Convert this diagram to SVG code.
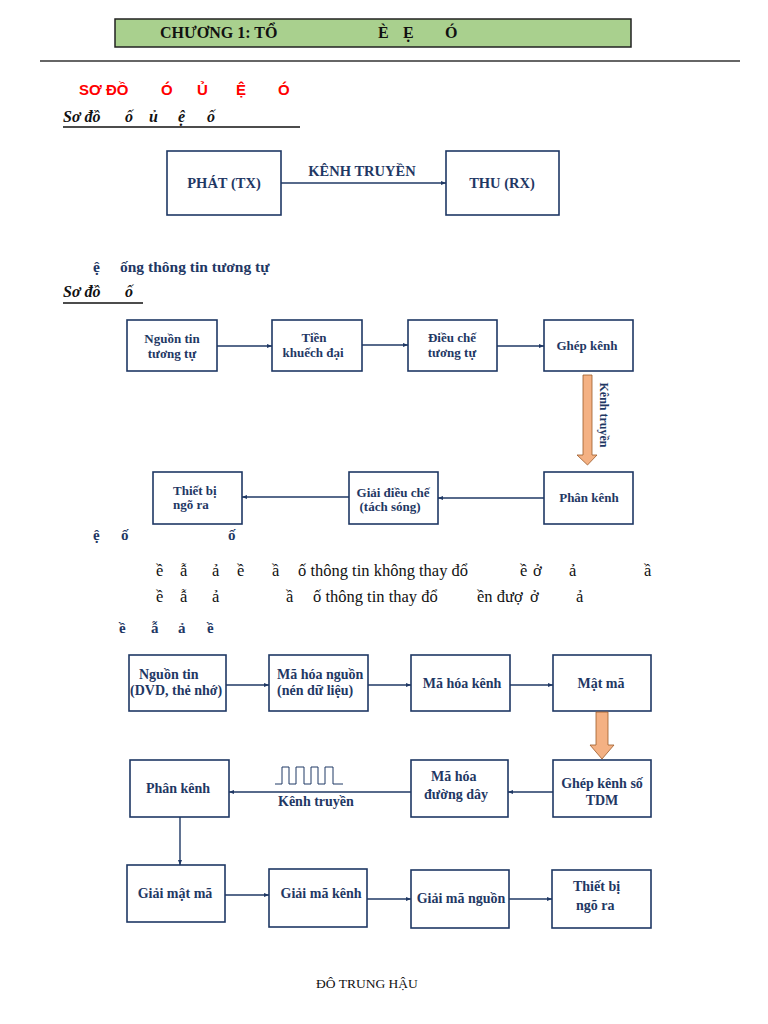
<svg xmlns="http://www.w3.org/2000/svg" width="768" height="1024" viewBox="0 0 768 1024">
<style>
.bx{fill:#fff;stroke:#1f3864;stroke-width:1.6}
.t{font-family:"Liberation Serif","Times New Roman",serif;font-weight:bold;fill:#1f3864}
.c{text-anchor:middle}
.ln{stroke:#1f3864;stroke-width:1.4;fill:none}
.blk{font-family:"Liberation Serif","Times New Roman",serif;fill:#111}
.ora{fill:#f4b183;stroke:#9c5a2a;stroke-width:0.8}
</style>
<defs>
<marker id="ah" viewBox="0 0 10 10" refX="10" refY="5" markerWidth="5" markerHeight="5" orient="auto" markerUnits="userSpaceOnUse">
<path d="M0,1 L10,5 L0,9 z" fill="#1f3864"/>
</marker>
</defs>
<rect width="768" height="1024" fill="#fff"/>

<!-- header -->
<g id="header">
<rect x="115" y="19" width="516" height="28" fill="#a9d08e" stroke="#222" stroke-width="1.5"/>
<text class="blk" font-weight="bold" font-size="16" y="38"><tspan x="160">CHƯƠNG 1: TỔ</tspan><tspan x="378">È</tspan><tspan x="403">Ẹ</tspan><tspan x="445">Ó</tspan></text>
<line x1="40" y1="61" x2="740" y2="61" stroke="#333" stroke-width="1.6"/>
</g>

<g id="heading1">
<text font-family="Liberation Sans,Arial,sans-serif" font-weight="bold" font-size="15" fill="#ff0000" y="95"><tspan x="79">SƠ ĐỒ</tspan><tspan x="161">Ó</tspan><tspan x="197">Ủ</tspan><tspan x="236">Ệ</tspan><tspan x="278">Ó</tspan></text>
<text class="blk" font-weight="bold" font-style="italic" font-size="16" y="122"><tspan x="63">Sơ đồ</tspan><tspan x="125">ố</tspan><tspan x="149">ủ</tspan><tspan x="178">ệ</tspan><tspan x="207">ố</tspan></text>
<line x1="63" y1="127" x2="300" y2="127" stroke="#111" stroke-width="1.3"/>
</g>

<!-- diagram 1 -->
<g id="phat"><rect class="bx" x="167" y="151" width="114" height="64"/><text class="t c" font-size="14.5" x="224" y="188">PHÁT (TX)</text></g>
<g id="thu"><rect class="bx" x="446" y="151" width="113" height="64"/><text class="t c" font-size="14.5" x="502" y="188">THU (RX)</text></g>
<g id="conn1">
<line class="ln" x1="281" y1="183" x2="446" y2="183" marker-end="url(#ah)"/>
<text class="t c" font-size="14.5" x="362" y="176">KÊNH TRUYỀN</text>
</g>

<g id="heading2">
<text class="t" font-size="15.5" y="272"><tspan x="93">ệ</tspan><tspan x="120">ống thông tin tương tự</tspan></text>
<text class="blk" font-weight="bold" font-style="italic" font-size="16" y="297"><tspan x="63">Sơ đồ</tspan><tspan x="125">ố</tspan></text>
<line x1="63" y1="303" x2="143" y2="303" stroke="#111" stroke-width="1.3"/>
</g>

<!-- diagram 2 -->
<g id="n2a"><rect class="bx" x="127" y="320" width="90" height="51"/><text class="t c" font-size="13" x="172"><tspan x="172" y="343">Nguồn tin</tspan><tspan x="172" y="358">tương tự</tspan></text></g>
<g id="n2b"><rect class="bx" x="272" y="320" width="90" height="51"/><text class="t c" font-size="13"><tspan x="314" y="342">Tiền</tspan><tspan x="313" y="357">khuếch đại</tspan></text></g>
<g id="n2c"><rect class="bx" x="408" y="320" width="89" height="51"/><text class="t c" font-size="13"><tspan x="452" y="342">Điều chế</tspan><tspan x="452" y="357">tương tự</tspan></text></g>
<g id="n2d"><rect class="bx" x="544" y="320" width="89" height="51"/><text class="t c" font-size="13" x="587" y="350">Ghép kênh</text></g>
<g id="n2e"><rect class="bx" x="544" y="472" width="89" height="52"/><text class="t c" font-size="13" x="589" y="502">Phân kênh</text></g>
<g id="n2f"><rect class="bx" x="349" y="472" width="89" height="52"/><text class="t c" font-size="13"><tspan x="393" y="497">Giải điều chế</tspan><tspan x="390" y="511">(tách sóng)</tspan></text></g>
<g id="n2g"><rect class="bx" x="153" y="472" width="89" height="52"/><text class="t" font-size="13"><tspan x="173" y="495">Thiết bị</tspan><tspan x="173" y="509">ngõ ra</tspan></text></g>
<g id="conn2">
<line class="ln" x1="217" y1="346" x2="272" y2="346" marker-end="url(#ah)"/>
<line class="ln" x1="362" y1="345" x2="408" y2="345" marker-end="url(#ah)"/>
<line class="ln" x1="497" y1="346" x2="544" y2="346" marker-end="url(#ah)"/>
<path class="ora" d="M583,375 H592 V455 H597 L587.5,465 L577,455 H583 Z"/>
<text class="t c" font-size="12" transform="translate(600,415) rotate(90)">Kênh truyền</text>
<line class="ln" x1="544" y1="498" x2="438" y2="498" marker-end="url(#ah)"/>
<line class="ln" x1="349" y1="497" x2="242" y2="497" marker-end="url(#ah)"/>
</g>

<!-- section 3 text -->
<g id="text3">
<text class="t" font-size="15" y="540"><tspan x="93">ệ</tspan><tspan x="121">ố</tspan><tspan x="228">ố</tspan></text>
<text class="blk" font-size="16.5" y="576"><tspan x="156">ề</tspan><tspan x="180">ẫ</tspan><tspan x="212">ả</tspan><tspan x="237">ề</tspan><tspan x="272">ầ</tspan><tspan x="298">ố thông tin không thay đổ</tspan><tspan x="520">ề</tspan><tspan x="533">ở</tspan><tspan x="569">ả</tspan><tspan x="644">ầ</tspan></text>
<text class="blk" font-size="16.5" y="602"><tspan x="156">ề</tspan><tspan x="180">ẫ</tspan><tspan x="212">ả</tspan><tspan x="286">ầ</tspan><tspan x="313">ố thông tin thay đổ</tspan><tspan x="477">ền đượ</tspan><tspan x="530">ở</tspan><tspan x="576">ả</tspan></text>
<text class="t" font-size="15" y="633"><tspan x="119">ề</tspan><tspan x="151">ẫ</tspan><tspan x="178">ả</tspan><tspan x="207">ề</tspan></text>
</g>

<!-- diagram 3 -->
<g id="n3a"><rect class="bx" x="129" y="655" width="97" height="56"/><text class="t" font-size="14"><tspan x="139" y="679">Nguồn tin</tspan><tspan x="130" y="695">(DVD, thẻ nhớ)</tspan></text></g>
<g id="n3b"><rect class="bx" x="269" y="655" width="99" height="56"/><text class="t" font-size="14"><tspan x="277" y="679">Mã hóa nguồn</tspan><tspan x="277" y="695">(nén dữ liệu)</tspan></text></g>
<g id="n3c"><rect class="bx" x="411" y="655" width="99" height="56"/><text class="t c" font-size="14" x="462" y="688">Mã hóa kênh</text></g>
<g id="n3d"><rect class="bx" x="553" y="655" width="98" height="56"/><text class="t c" font-size="14" x="601" y="688">Mật mã</text></g>
<g id="n3e"><rect class="bx" x="553" y="760" width="98" height="57"/><text class="t c" font-size="14"><tspan x="602" y="788">Ghép kênh số</tspan><tspan x="602" y="805">TDM</tspan></text></g>
<g id="n3f"><rect class="bx" x="411" y="760" width="97" height="57"/><text class="t" font-size="14"><tspan x="431" y="781">Mã hóa</tspan><tspan x="424" y="799">đường dây</tspan></text></g>
<g id="n3g"><rect class="bx" x="130" y="760" width="99" height="57"/><text class="t c" font-size="14" x="178" y="793">Phân kênh</text></g>
<g id="n3h"><rect class="bx" x="127" y="865" width="98" height="57"/><text class="t c" font-size="14" x="175" y="898">Giải mật mã</text></g>
<g id="n3i"><rect class="bx" x="269" y="869" width="98" height="58"/><text class="t c" font-size="14" x="321" y="898">Giải mã kênh</text></g>
<g id="n3j"><rect class="bx" x="411" y="870" width="98" height="58"/><text class="t c" font-size="14" x="461" y="903">Giải mã nguồn</text></g>
<g id="n3k"><rect class="bx" x="552" y="870" width="99" height="58"/><text class="t" font-size="14"><tspan x="573" y="891">Thiết bị</tspan><tspan x="576" y="910">ngõ ra</tspan></text></g>
<g id="conn3">
<line class="ln" x1="226" y1="685" x2="269" y2="685" marker-end="url(#ah)"/>
<line class="ln" x1="368" y1="685" x2="411" y2="685" marker-end="url(#ah)"/>
<line class="ln" x1="510" y1="685" x2="553" y2="685" marker-end="url(#ah)"/>
<path class="ora" d="M596,712 H608 V745 H614 L602,759 L590,745 H596 Z"/>
<line class="ln" x1="553" y1="792" x2="508" y2="792" marker-end="url(#ah)"/>
<line class="ln" x1="411" y1="792" x2="229" y2="792" marker-end="url(#ah)"/>
<path d="M275,784 H282 V767 H289 V784 H296 V767 H304 V784 H311 V767 H318 V784 H325 V767 H333 V784 H343" fill="none" stroke="#1f3864" stroke-width="1"/>
<text class="t" font-size="14" x="278" y="806">Kênh truyền</text>
<line class="ln" x1="180" y1="817" x2="180" y2="865" marker-end="url(#ah)"/>
<line class="ln" x1="225" y1="895" x2="269" y2="895" marker-end="url(#ah)"/>
<line class="ln" x1="367" y1="899" x2="411" y2="899" marker-end="url(#ah)"/>
<line class="ln" x1="509" y1="899" x2="552" y2="899" marker-end="url(#ah)"/>
</g>

<g id="footer"><text class="blk" font-size="13.5" x="367" y="988" text-anchor="middle">ĐÔ TRUNG HẬU</text></g>
</svg>
